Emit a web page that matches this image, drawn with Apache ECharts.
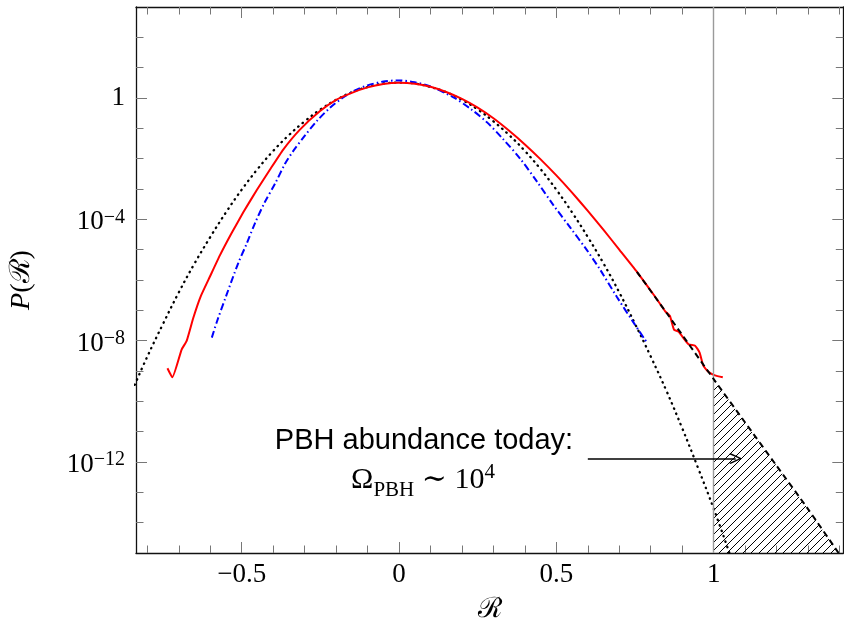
<!DOCTYPE html>
<html>
<head>
<meta charset="utf-8">
<script src="https://cdn.jsdelivr.net/npm/echarts@6/dist/echarts.min.js"></script>
<style>
html,body{margin:0;padding:0;background:#fff;}
#chart{width:844px;height:629px;}
</style>
</head>
<body>
<div id="chart"></div>
<script>
// ---- data ----
const gaussX = [-0.84,-0.8,-0.75,-0.7,-0.65,-0.6,-0.55,-0.5,-0.45,-0.4,-0.35,-0.3,-0.25,-0.2,-0.15,-0.1,-0.05,0,0.05,0.1,0.15,0.2,0.25,0.3,0.35,0.4,0.45,0.5,0.55,0.6,0.65,0.7,0.75,0.8,0.85,0.9,0.95,1.0,1.05];
const gaussP = [3.5e-10,3.0e-9,3.6e-8,3.9e-7,3.5e-6,2.6e-5,1.7e-4,9.5e-4,4.5e-3,1.8e-2,6.0e-2,0.17,0.42,0.87,1.55,2.3,3.0,3.2,3.0,2.3,1.55,0.87,0.42,0.17,6.0e-2,1.8e-2,4.5e-3,9.5e-4,1.7e-4,2.6e-5,3.5e-6,3.9e-7,3.6e-8,3.0e-9,2.2e-10,1.3e-11,6.5e-13,2.9e-14,1.0e-15];

const redX = [-0.736,-0.7206,-0.691,-0.675,-0.654,-0.630,-0.601,-0.569,-0.532,-0.495,-0.452,-0.41,-0.368,-0.315,-0.251,-0.2,-0.15,-0.1,-0.05,0,0.05,0.1,0.15,0.2,0.25,0.3,0.35,0.4,0.45,0.5,0.55,0.6,0.65,0.7,0.756,0.814,0.846,0.861,0.874,0.888,0.92,0.941,0.955,0.967,0.983,1.004,1.029];
const redP = [1.23e-9,6.2e-10,5.1e-9,9.8e-9,5.6e-8,2.95e-7,1.3e-6,6.6e-6,3.55e-5,1.7e-4,9.3e-4,4.4e-3,2.0e-2,9.1e-2,0.37,0.87,1.48,2.24,2.88,3.16,2.95,2.34,1.58,0.93,0.48,0.214,8.3e-2,2.95e-2,9.5e-3,2.8e-3,7.6e-4,1.9e-4,4.5e-5,1.0e-5,1.86e-6,2.8e-7,9.3e-8,6.5e-8,2.3e-8,2.0e-8,7.6e-9,6.8e-9,4.1e-9,1.5e-9,9.5e-10,7.2e-10,6.2e-10];

const blueX = [-0.595,-0.58,-0.548,-0.511,-0.484,-0.458,-0.426,-0.394,-0.362,-0.336,-0.3,-0.26,-0.22,-0.18,-0.14,-0.1,-0.05,0,0.05,0.1,0.173,0.23,0.279,0.33,0.385,0.44,0.49,0.545,0.596,0.639,0.692,0.745,0.787];
const blueP = [1.26e-8,3.9e-8,3.3e-7,3.6e-6,1.6e-5,7.4e-5,3.8e-4,1.5e-3,6.9e-3,1.8e-2,5.6e-2,0.18,0.47,1.0,1.78,2.6,3.5,3.8,3.3,2.4,1.05,0.42,0.16,4.5e-2,1.0e-2,1.66e-3,3.0e-4,5.2e-5,1.0e-5,2.2e-6,2.8e-7,4.0e-8,8.9e-9];

const tailX = [0.756,0.85,1.0,1.1,1.2,1.3,1.4];
const tailP = [1.86e-6,8.3e-8,5.4e-10,2.0e-11,7.5e-13,2.8e-14,9.0e-16];

const hatchX = [1.0,1.1,1.2,1.3,1.4];
const hatchP = [5.4e-10,2.0e-11,7.5e-13,2.8e-14,9.0e-16];

const thresholdX = 1;
const arrowFromX = 0.6, arrowToX = 1.07, arrowY = 1.3e-12;

const xMajorTicks = [-0.5,0,0.5,1];
const xMinorTicks = [-0.8,-0.7,-0.6,-0.5,-0.4,-0.3,-0.2,-0.1,0,0.1,0.2,0.3,0.4,0.5,0.6,0.7,0.8,0.9,1.0,1.1,1.2,1.3,1.4];
const yMajorTicks = [1e-12,1e-8,1e-4,1];
const yMinorTicks = [1e-14,1e-13,1e-12,1e-11,1e-10,1e-9,1e-8,1e-7,1e-6,1e-5,1e-4,1e-3,1e-2,1e-1,1,1e1,1e2];

const xMin = -0.836, xMax = 1.412, yMin = 1e-15, yMax = 1e3;

const annotLine1 = 'PBH abundance today:';

// ---- helpers ----
const zip = (xs, ys) => xs.map((x, i) => [x, ys[i]]);

function hatchPattern() {
  const s = 8;
  const c = document.createElement('canvas');
  c.width = s; c.height = s;
  const g = c.getContext('2d');
  g.strokeStyle = '#000';
  g.lineWidth = 1;
  g.beginPath();
  g.moveTo(-1, s + 1); g.lineTo(s + 1, -1);
  g.moveTo(-1, 1); g.lineTo(1, -1);
  g.moveTo(s - 1, s + 1); g.lineTo(s + 1, s - 1);
  g.stroke();
  return c;
}

const serif = '"Liberation Serif", "DejaVu Serif", serif';
const tickColor = '#777';
const frameColor = '#111';

function xLabel(v) {
  return v < 0 ? '\u2212' + Math.abs(v) : String(v);
}
function yLabel(v) {
  const e = Math.round(Math.log10(v));
  if (e === 0) return '{p|1}';
  return '{b|10}{s|' + (e < 0 ? '\u2212' + Math.abs(e) : e) + '}';
}

const yRich = {
  p: { fontFamily: serif, fontSize: 27, lineHeight: 30, color: '#000', verticalAlign: 'middle' },
  b: { fontFamily: serif, fontSize: 27, lineHeight: 30, padding: [6, 0, 0, 0], color: '#000', verticalAlign: 'middle' },
  s: { fontFamily: serif, fontSize: 20, lineHeight: 20, padding: [0, 0, 4, 0], color: '#000', verticalAlign: 'middle' }
};

function xAxisDef(pos, major) {
  return {
    type: 'value', position: pos, min: xMin, max: xMax,
    axisLine: { show: major, onZero: false, lineStyle: { color: frameColor, width: 1.3 } },
    axisTick: { show: true, inside: true, length: major ? 11 : 7.5, customValues: major ? xMajorTicks : xMinorTicks,
      lineStyle: { color: tickColor, width: 1 } },
    axisLabel: { show: major && pos === 'bottom', customValues: xMajorTicks, formatter: xLabel, margin: 8,
      fontFamily: serif, fontSize: 27, color: '#000' },
    splitLine: { show: false },
    name: (major && pos === 'bottom') ? '\u211B' : '',
    nameLocation: 'middle', nameGap: 43,
    nameTextStyle: { fontFamily: serif, fontSize: 28, color: '#000' }
  };
}
function yAxisDef(pos, major) {
  return {
    type: 'log', logBase: 10, position: pos, min: yMin, max: yMax,
    axisLine: { show: major, onZero: false, lineStyle: { color: frameColor, width: 1.3 } },
    axisTick: { show: true, inside: true, length: major ? 11 : 7.5, customValues: major ? yMajorTicks : yMinorTicks,
      lineStyle: { color: tickColor, width: 1 } },
    axisLabel: { show: major && pos === 'left', customValues: yMajorTicks, formatter: yLabel, margin: 11,
      rich: yRich },
    splitLine: { show: false },
    minorTick: { show: false },
    name: (major && pos === 'left') ? '{i|P}{r|(\u211B)}' : '',
    nameLocation: 'middle', nameGap: 100, nameRotate: 90,
    nameTextStyle: { rich: {
      i: { fontFamily: serif, fontStyle: 'italic', fontSize: 28, color: '#000' },
      r: { fontFamily: serif, fontSize: 28, color: '#000' } } }
  };
}

const chart = echarts.init(document.getElementById('chart'), null, { renderer: 'canvas' });

const chevron = 'path://M5,0 L10,9 L9,10 L5,2.4 L1,10 L0,9 Z';

const option = {
  animation: false,
  backgroundColor: '#fff',
  grid: { left: 136, right: 0.7, top: 7, bottom: 72.3, containLabel: false },
  xAxis: [xAxisDef('bottom', true), xAxisDef('bottom', false), xAxisDef('top', true), xAxisDef('top', false)],
  yAxis: [yAxisDef('left', true), yAxisDef('left', false), yAxisDef('right', true), yAxisDef('right', false)],
  series: [
    {
      name: 'hatch', type: 'line', data: zip(hatchX, hatchP), symbol: 'none',
      lineStyle: { width: 0, opacity: 0 },
      areaStyle: { origin: 'start', color: { image: hatchPattern(), repeat: 'repeat' }, opacity: 1 },
      markLine: {
        silent: true, symbol: ['none', 'none'], label: { show: false },
        lineStyle: { color: '#9a9a9a', width: 1.4, type: 'solid' },
        data: [{ xAxis: thresholdX }]
      },
      z: 1
    },
    {
      name: 'gauss', type: 'line', data: zip(gaussX, gaussP), symbol: 'none', smooth: 0.4,
      lineStyle: { color: '#000', width: 2.3, type: [0.5, 5.2], cap: 'round' }, z: 2
    },
    {
      name: 'blue', type: 'line', data: zip(blueX, blueP), symbol: 'none', smooth: 0.3,
      lineStyle: { color: '#0000ff', width: 2, type: [7, 3, 1.5, 3] }, z: 3
    },
    {
      name: 'red', type: 'line', data: zip(redX, redP), symbol: 'none', smooth: 0.15,
      lineStyle: { color: '#ff0000', width: 2 }, z: 4
    },
    {
      name: 'tail', type: 'line', data: zip(tailX, tailP), symbol: 'none', smooth: 0.2,
      lineStyle: { color: '#000', width: 2, type: [6, 4] }, z: 5,
      markLine: {
        silent: true, symbol: ['none', chevron], symbolSize: [11, 13], label: { show: false },
        lineStyle: { color: '#000', width: 1.6, type: 'solid' },
        data: [[{ coord: [arrowFromX, arrowY] }, { coord: [arrowToX, arrowY] }]]
      }
    }
  ],
  graphic: [
    { type: 'text', x: 424, y: 441, z: 100,
      style: { text: annotLine1, font: '29px "Liberation Sans", Arial, sans-serif', fill: '#000', align: 'center', verticalAlign: 'middle' } },
    { type: 'text', x: 423, y: 480, z: 100,
      style: { text: '{o|\u03A9}{s|PBH}{o| \u223C 10}{p|4}', align: 'center', verticalAlign: 'middle',
        rich: {
          o: { fontFamily: serif, fontSize: 30, lineHeight: 32, color: '#000', verticalAlign: 'middle' },
          s: { fontFamily: serif, fontSize: 21, lineHeight: 21, padding: [20, 0, 0, 0], color: '#000', verticalAlign: 'middle' },
          p: { fontFamily: serif, fontSize: 21, lineHeight: 21, padding: [0, 0, 15, 0], color: '#000', verticalAlign: 'middle' }
        } } }
  ]
};
chart.setOption(option);
</script>
</body>
</html>
